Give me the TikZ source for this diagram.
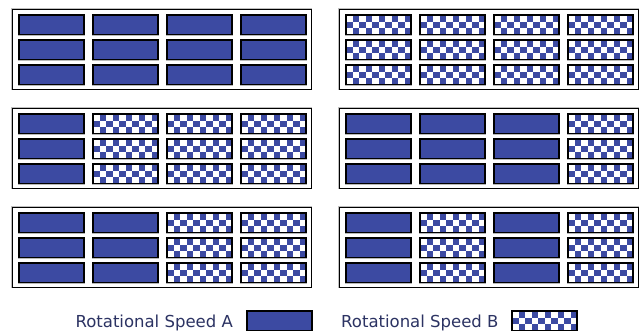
\documentclass[tikz,border=0pt]{standalone}
\usepackage{fontspec}
\setmainfont{DejaVu Sans}
\definecolor{cblue}{RGB}{60,74,162}
\definecolor{navy}{RGB}{44,51,99}
\newcommand\mypanel[7]{%
  \node[panelbox] (#1) at (#2+149.5, #3+40) {};
  \foreach \t [count=\i from 0] in {#4,#5,#6,#7} {
    \foreach \j in {0,1,2} {
      \node[cell\t] (#1-\i-\j) at (#2+39.5+74*\i, #3+15.75+25*\j) {};
    }
  }
}
\begin{document}
\begin{tikzpicture}[x=1pt,y=-1pt,
  cellbase/.style={draw=black, line width=1.1pt, minimum width=65pt, minimum height=19.5pt, inner sep=0pt, outer sep=0pt,
    preaction={draw=gray!55, line width=2.6pt}},
  cellA/.style={cellbase, fill=cblue},
  cellB/.style={cellbase, fill=white, path picture={
    \foreach \a in {0,...,9} \foreach \b in {0,1,2} {
      \pgfmathparse{int(mod(\a+\b,2))}
      \ifnum\pgfmathresult=1
        \fill[cblue] ([xshift=\a*6.5pt, yshift=-\b*6.5pt]path picture bounding box.north west) rectangle ++(6.5pt,-6.5pt);
      \fi
    }}},
  panelbox/.style={draw=black, line width=0.9pt, minimum width=299pt, minimum height=80pt, inner sep=0pt,
    preaction={draw=gray!50, line width=2.4pt}, fill=white},
  legtext/.style={text=navy, font=\fontsize{16.5}{18}\selectfont, inner sep=0pt}
]
\useasboundingbox (0,0) rectangle (641,330);
\fill[white] (0,0) rectangle (641,330);
\mypanel{P1L}{12}{9}{A}{A}{A}{A}
\mypanel{P1R}{339}{9}{B}{B}{B}{B}
\mypanel{P2L}{12}{108}{A}{B}{B}{B}
\mypanel{P2R}{339}{108}{A}{A}{A}{B}
\mypanel{P3L}{12}{207}{A}{A}{B}{B}
\mypanel{P3R}{339}{207}{A}{B}{A}{B}
\node[legtext, anchor=base east] (legA) at (233,327) {Rotational Speed A};
\node[cellA] (boxA) at (279.5,320.75) {};
\node[legtext, anchor=base west] (legB) at (341,327) {Rotational Speed B};
\node[cellB] (boxB) at (544.5,320.75) {};
\end{tikzpicture}
\end{document}
